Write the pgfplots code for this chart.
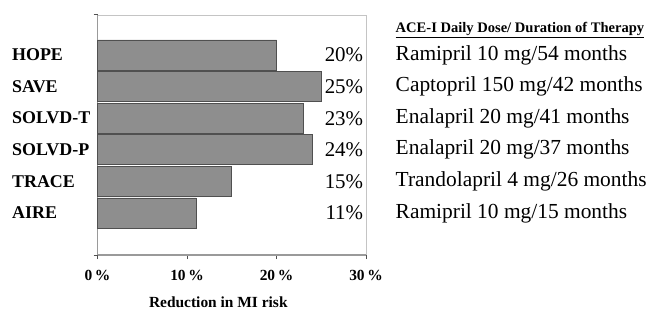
\documentclass[border=0pt]{standalone}
\usepackage{pgfplots}
\pgfplotsset{compat=1.18}
\usepackage{fontspec}
\setmainfont{Liberation Serif}
\definecolor{barfill}{HTML}{8E8E8E}
\definecolor{bardraw}{HTML}{505050}
\definecolor{axgray}{HTML}{9A9A9A}
\definecolor{boxgray}{HTML}{C4C4C4}
\tikzset{
  namestyle/.style={anchor=west, inner sep=0pt, font=\fontsize{18}{20}\selectfont\bfseries},
  pctstyle/.style={anchor=east, inner sep=0pt, font=\fontsize{21}{24}\selectfont},
  txtstyle/.style={anchor=west, inner sep=0pt, font=\fontsize{21.5}{24}\selectfont},
}
\begin{document}
\begin{tikzpicture}[x=1bp,y=1bp]
\path (0,0) rectangle (651,314);
\begin{axis}[
  at={(97.5bp,59bp)}, anchor=south west,
  scale only axis, width=268.5bp, height=240bp,
  xmin=0, xmax=30, ymin=-1.33, ymax=6.266,
  axis x line*=bottom, axis y line*=left,
  axis line style={axgray, line width=1.3bp, -},
  xtick={0,10,20,30},
  xticklabels={\textbf{0\,\%},\textbf{10\,\%},\textbf{20\,\%},\textbf{30\,\%}},
  xticklabel style={font=\fontsize{15.5}{17}\selectfont, yshift=-8bp},
  ytick={-1.33,6.266}, yticklabels={},
  tick align=outside, major tick length=4bp,
  tick style={color=bardraw, line width=1bp},
  xlabel={\textbf{Reduction in MI risk}},
  xlabel style={font=\fontsize{15.5}{18}\selectfont, at={(axis description cs:0.45,0)}, anchor=center, yshift=-47bp},
  clip=false,
  xbar, bar width=30bp,
]
\addplot[fill=barfill, draw=bardraw, line width=0.9bp] coordinates {
 (20,5) (25,4) (23,3) (24,2) (15,1) (11,0)
};
\draw[boxgray, line width=0.8bp] (rel axis cs:0,1) -- (rel axis cs:1,1) -- (rel axis cs:1,0);
% category names
\node[namestyle] at (axis cs:-9.56,5) {HOPE};
\node[namestyle] at (axis cs:-9.56,4) {SAVE};
\node[namestyle] at (axis cs:-9.56,3) {SOLVD-T};
\node[namestyle] at (axis cs:-9.56,2) {SOLVD-P};
\node[namestyle] at (axis cs:-9.56,1) {TRACE};
\node[namestyle] at (axis cs:-9.56,0) {AIRE};
% percent labels
\node[pctstyle] at (axis cs:29.7,5) {20\%};
\node[pctstyle] at (axis cs:29.7,4) {25\%};
\node[pctstyle] at (axis cs:29.7,3) {23\%};
\node[pctstyle] at (axis cs:29.7,2) {24\%};
\node[pctstyle] at (axis cs:29.7,1) {15\%};
\node[pctstyle] at (axis cs:29.7,0) {11\%};
% right column
\node[anchor=west, inner sep=0pt, font=\fontsize{14.6}{16}\selectfont\bfseries] at (axis cs:33.3,5.79) {\underline{ACE-I Daily Dose/ Duration of Therapy}};
\node[txtstyle] at (axis cs:33.3,5) {Ramipril 10 mg/54 months};
\node[txtstyle] at (axis cs:33.3,4) {Captopril 150 mg/42 months};
\node[txtstyle] at (axis cs:33.3,3) {Enalapril 20 mg/41 months};
\node[txtstyle] at (axis cs:33.3,2) {Enalapril 20 mg/37 months};
\node[txtstyle] at (axis cs:33.3,1) {Trandolapril 4 mg/26 months};
\node[txtstyle] at (axis cs:33.3,0) {Ramipril 10 mg/15 months};
\end{axis}
\end{tikzpicture}
\end{document}
